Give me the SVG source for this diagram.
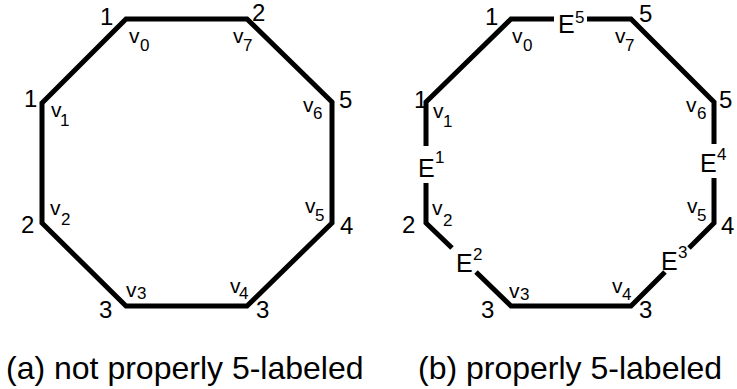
<svg xmlns="http://www.w3.org/2000/svg" width="737" height="389" viewBox="0 0 737 389">
<style>
text{font-family:"Liberation Sans",Arial,sans-serif;fill:#000}
.num{font-size:24px}
.v{font-size:21px}
.sub{font-size:17px}
.E{font-size:25px}
.sup{font-size:17px}
.cap{font-size:32px}
.edge{fill:none;stroke:#000;stroke-width:5;stroke-linejoin:miter;stroke-linecap:butt}
</style>
<rect width="737" height="389" fill="#fff"/>
<g id="connectors">
<polygon class="edge" points="126,19 247,19 332,102 332,223 247,306 126,306 42,223 42,103"/>
<path class="edge" d="M554,19 L511,19 L426,102 L426,146"/>
<path class="edge" d="M426,183 L426,223 L452,248"/>
<path class="edge" d="M476,272 L511,306 L631,306 L665,272"/>
<path class="edge" d="M689,248 L714,223 L714,178"/>
<path class="edge" d="M714,144 L714,102 L631,19 L587,19"/>
</g>
<g id="a-v0"><text class="num" x="100" y="25">1</text><text class="v" x="129" y="43">v</text><text class="sub" x="140" y="51">0</text></g>
<g id="a-v7"><text class="num" x="252" y="21">2</text><text class="v" x="233" y="43">v</text><text class="sub" x="243" y="51">7</text></g>
<g id="a-v6"><text class="num" x="339" y="108">5</text><text class="v" x="303" y="112">v</text><text class="sub" x="313" y="119">6</text></g>
<g id="a-v5"><text class="num" x="340" y="234">4</text><text class="v" x="305" y="213">v</text><text class="sub" x="315" y="221">5</text></g>
<g id="a-v4"><text class="num" x="256" y="318">3</text><text class="v" x="230" y="293">v</text><text class="sub" x="239" y="299">4</text></g>
<g id="a-v3"><text class="num" x="99" y="318">3</text><text class="v" x="126" y="297">v</text><text class="sub" x="137" y="299">3</text></g>
<g id="a-v2"><text class="num" x="21" y="233">2</text><text class="v" x="50" y="215">v</text><text class="sub" x="61" y="225">2</text></g>
<g id="a-v1"><text class="num" x="24" y="107">1</text><text class="v" x="51" y="117">v</text><text class="sub" x="60" y="126">1</text></g>
<g id="b-v0"><text class="num" x="485" y="25">1</text><text class="v" x="512" y="43">v</text><text class="sub" x="523" y="51">0</text></g>
<g id="b-v7"><text class="num" x="639" y="22">5</text><text class="v" x="615" y="43">v</text><text class="sub" x="625" y="51">7</text></g>
<g id="b-v6"><text class="num" x="719" y="108">5</text><text class="v" x="686" y="112">v</text><text class="sub" x="697" y="119">6</text></g>
<g id="b-v5"><text class="num" x="721" y="234">4</text><text class="v" x="687" y="213">v</text><text class="sub" x="697" y="221">5</text></g>
<g id="b-v4"><text class="num" x="639" y="318">3</text><text class="v" x="612" y="293">v</text><text class="sub" x="622" y="300">4</text></g>
<g id="b-v3"><text class="num" x="481" y="318">3</text><text class="v" x="509" y="298">v</text><text class="sub" x="520" y="300">3</text></g>
<g id="b-v2"><text class="num" x="402" y="233">2</text><text class="v" x="432" y="215">v</text><text class="sub" x="443" y="226">2</text></g>
<g id="b-v1"><text class="num" x="414" y="108">1</text><text class="v" x="433" y="118">v</text><text class="sub" x="443" y="127">1</text></g>
<g id="b-E5"><text class="E" x="558" y="33">E</text><text class="sup" x="575" y="23">5</text></g>
<g id="b-E4"><text class="E" x="700" y="172">E</text><text class="sup" x="717" y="160">4</text></g>
<g id="b-E1"><text class="E" x="418" y="177">E</text><text class="sup" x="435" y="163">1</text></g>
<g id="b-E2"><text class="E" x="456" y="272">E</text><text class="sup" x="473" y="260">2</text></g>
<g id="b-E3"><text class="E" x="661" y="270">E</text><text class="sup" x="678" y="258">3</text></g>
<g id="captions">
<text class="cap" x="6" y="379">(a) not properly 5-labeled</text>
<text class="cap" x="418" y="379">(b) properly 5-labeled</text>
</g>
</svg>
